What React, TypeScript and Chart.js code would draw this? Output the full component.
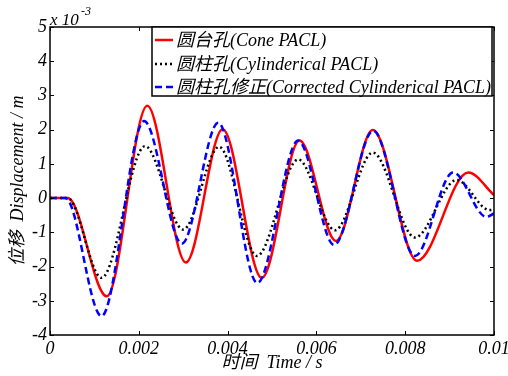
import React, { useEffect, useRef } from "react";
import { Chart, registerables } from "chart.js";
Chart.register(...registerables);

// values in units of 1e-3 m, time in s
const coneT = [0, 0.0004, 0.00128, 0.00219, 0.00306, 0.00389, 0.00477, 0.00562, 0.00644, 0.00727, 0.00827, 0.00942, 0.01];
const coneV = [0, 0, -2.87, 2.7, -1.88, 2.01, -2.33, 1.68, -1.25, 1.99, -1.83, 0.75, 0.09];

const cylT = [0, 0.0004, 0.00116, 0.00214, 0.003, 0.00381, 0.00466, 0.00559, 0.00642, 0.00727, 0.00822, 0.00916, 0.0099, 0.01];
const cylV = [0, 0, -2.33, 1.52, -0.92, 1.5, -1.69, 1.13, -0.94, 1.33, -1.15, 0.53, -0.35, -0.33];

const corrT = [0, 0.00035, 0.00116, 0.00212, 0.00297, 0.00379, 0.00467, 0.00559, 0.0064, 0.00728, 0.00822, 0.00908, 0.00983, 0.01];
const corrV = [0, 0, -3.45, 2.25, -1.33, 2.2, -2.48, 1.68, -1.37, 1.97, -1.69, 0.75, -0.55, -0.45];

const xTicks = [0, 0.002, 0.004, 0.006, 0.008, 0.01];
const yTicks = [-4, -3, -2, -1, 0, 1, 2, 3, 4, 5];
const legendLabels = ["圆台孔(Cone PACL)", "圆柱孔(Cylinderical PACL)", "圆柱孔修正(Corrected Cylinderical PACL)"];
const xTitle = "时间  Time / s";
const yTitle = "位移  Displacement / m";

const FONT = '"Liberation Serif", "Noto Sans CJK SC", serif';

const toPts = (t: number[], v: number[]) => t.map((x, i) => ({ x, y: v[i] }));

const framePlugin = {
  id: "frame",
  afterDraw(chart: any) {
    const { ctx, chartArea: a } = chart;
    const xs = chart.scales.x;
    const ys = chart.scales.y;
    ctx.save();
    ctx.strokeStyle = "#000";
    ctx.lineWidth = 1.5;
    ctx.strokeRect(a.left, a.top, a.right - a.left, a.bottom - a.top);
    ctx.lineWidth = 1;
    const tl = 4;
    ctx.beginPath();
    xTicks.forEach((v) => {
      const px = Math.round(xs.getPixelForValue(v)) + 0.5;
      ctx.moveTo(px, a.bottom);
      ctx.lineTo(px, a.bottom - tl);
      ctx.moveTo(px, a.top);
      ctx.lineTo(px, a.top + tl);
    });
    yTicks.forEach((v) => {
      const py = Math.round(ys.getPixelForValue(v)) + 0.5;
      ctx.moveTo(a.left, py);
      ctx.lineTo(a.left + tl, py);
      ctx.moveTo(a.right, py);
      ctx.lineTo(a.right - tl, py);
    });
    ctx.stroke();

    // exponent label
    ctx.fillStyle = "#000";
    ctx.textAlign = "left";
    ctx.textBaseline = "alphabetic";
    ctx.font = `italic 17px ${FONT}`;
    ctx.fillText("x 10", a.left, 25);
    ctx.font = `italic 12px ${FONT}`;
    ctx.fillText("-3", a.left + 31, 15);

    // axis titles
    ctx.font = `italic 18px ${FONT}`;
    ctx.textAlign = "center";
    ctx.textBaseline = "middle";
    ctx.fillText(xTitle, (a.left + a.right) / 2, 363);
    ctx.save();
    ctx.translate(18, (a.top + a.bottom) / 2);
    ctx.rotate(-Math.PI / 2);
    ctx.fillText(yTitle, 0, 0);
    ctx.restore();

    // legend
    const lx = 152, ly = a.top, lw = a.right - 2 - 152, lh = 69;
    ctx.fillStyle = "#fff";
    ctx.fillRect(lx, ly, lw, lh);
    ctx.strokeStyle = "#000";
    ctx.lineWidth = 1.5;
    ctx.strokeRect(lx, ly, lw, lh);
    const rows = [40, 64, 87];
    chart.data.datasets.forEach((ds: any, i: number) => {
      const ry = rows[i];
      ctx.save();
      ctx.strokeStyle = ds.borderColor;
      ctx.lineWidth = ds.borderWidth;
      ctx.setLineDash(ds.borderDash || []);
      ctx.beginPath();
      ctx.moveTo(155, ry);
      ctx.lineTo(173, ry);
      ctx.stroke();
      ctx.restore();
      ctx.fillStyle = "#000";
      ctx.font = `italic 18px ${FONT}`;
      ctx.textAlign = "left";
      ctx.textBaseline = "middle";
      ctx.fillText(legendLabels[i], 176, ry + 1);
    });
    ctx.restore();
  },
};

export default function App() {
  const ref = useRef<HTMLCanvasElement | null>(null);
  useEffect(() => {
    if (!ref.current) return;
    const chart = new Chart(ref.current, {
      type: "line",
      data: {
        datasets: [
          {
            label: legendLabels[0],
            data: toPts(coneT, coneV),
            borderColor: "#ff0000",
            borderWidth: 2.5,
            pointRadius: 0,
            cubicInterpolationMode: "monotone",
            order: 3,
          },
          {
            label: legendLabels[1],
            data: toPts(cylT, cylV),
            borderColor: "#000000",
            borderWidth: 2.5,
            borderDash: [2, 3],
            pointRadius: 0,
            cubicInterpolationMode: "monotone",
            order: 2,
          },
          {
            label: legendLabels[2],
            data: toPts(corrT, corrV),
            borderColor: "#0000ff",
            borderWidth: 2.5,
            borderDash: [7, 4],
            pointRadius: 0,
            cubicInterpolationMode: "monotone",
            order: 1,
          },
        ] as any,
      },
      options: {
        animation: false,
        responsive: false,
        layout: { padding: { top: 27, right: 14, left: 0, bottom: 0 } },
        plugins: { legend: { display: false }, tooltip: { enabled: false } },
        scales: {
          x: {
            type: "linear",
            min: 0,
            max: 0.01,
            afterBuildTicks: (s: any) => {
              s.ticks = xTicks.map((v) => ({ value: v }));
            },
            afterFit: (s: any) => {
              s.height = 41;
              s.paddingLeft = 0;
              s.paddingRight = 0;
            },
            grid: { display: false, drawTicks: false },
            border: { display: false },
            ticks: {
              autoSkip: false,
              maxRotation: 0,
              padding: 3,
              color: "#000",
              font: { family: FONT, size: 18, style: "italic" },
              callback: (v: any) => String(Number(Number(v).toFixed(4))),
            },
          },
          y: {
            type: "linear",
            min: -4,
            max: 5,
            afterBuildTicks: (s: any) => {
              s.ticks = yTicks.map((v) => ({ value: v }));
            },
            afterFit: (s: any) => {
              s.width = 50;
              s.paddingTop = 0;
              s.paddingBottom = 0;
            },
            grid: { display: false, drawTicks: false },
            border: { display: false },
            ticks: {
              autoSkip: false,
              padding: 3,
              color: "#000",
              font: { family: FONT, size: 18, style: "italic" },
              callback: (v: any) => String(v),
            },
          },
        },
      } as any,
      plugins: [framePlugin],
    });
    return () => chart.destroy();
  }, []);
  return (
    <div style={{ position: "absolute", left: 0, top: 0, width: 508, height: 376, background: "#fff" }}>
      <canvas ref={ref} width={508} height={376} style={{ display: "block" }} />
    </div>
  );
}
